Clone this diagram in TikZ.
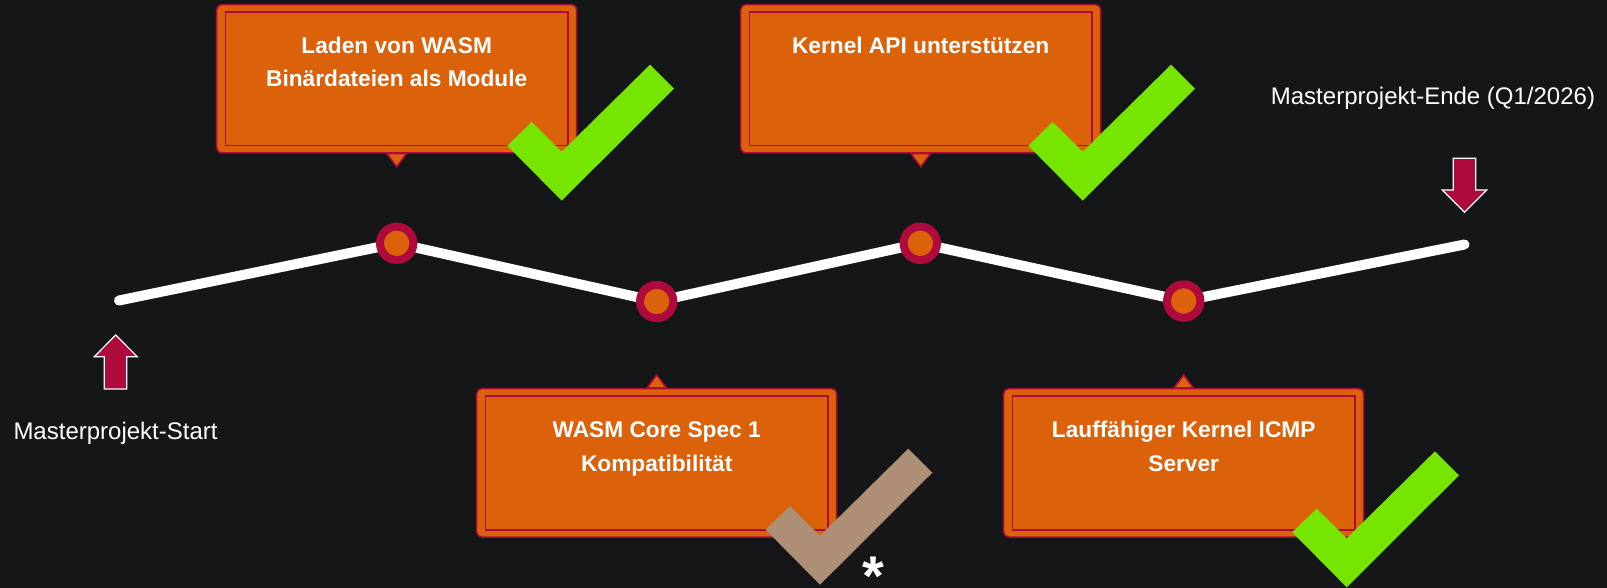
\documentclass[tikz,border=0pt]{standalone}
\usepackage{fontspec}
\setmainfont{Liberation Sans}
\definecolor{pagebg}{RGB}{21,22,24}
\definecolor{boxorange}{RGB}{219,97,10}
\definecolor{crimson}{RGB}{174,10,60}
\definecolor{tickgreen}{RGB}{118,230,0}
\definecolor{ticktan}{RGB}{172,143,117}
\pgfdeclarelayer{canvas}
\pgfdeclarelayer{track}
\pgfsetlayers{canvas,track,main}
\tikzset{
  milestone box/.style={rectangle, rounded corners=5pt, fill=boxorange, draw=crimson,
    line width=1.5pt, minimum width=360pt, minimum height=148.3pt, inner sep=0pt},
  inner frame/.style={draw=crimson, line width=1.5pt},
  pointer/.style={fill=boxorange, draw=crimson, line width=1.5pt, line join=miter},
  box text/.style={text=white, inner sep=0pt, anchor=base,
    font=\fontsize{22.7}{33.3}\selectfont\bfseries},
  milestone dot/.style={circle, fill=boxorange, draw=crimson, line width=8pt,
    minimum size=33.4pt, inner sep=0pt},
  timeline/.style={draw=white, line width=10pt, line cap=round, line join=round},
  caption/.style={text=white, inner sep=0pt, anchor=base west,
    font=\fontsize{24}{28}\selectfont},
  marker arrow/.style={fill=crimson, draw=white, line width=1.2pt, line join=miter},
  tick/.pic={\fill[#1] (0,0) -- (-54.4,-55) -- (-30,-78.7) -- (0,-49)
      -- (88.3,-136) -- (112.3,-112) -- cycle;},
}
\newcommand{\msframe}[1]{%
  \draw[inner frame] ([shift={(9.3,8)}]#1.north west) rectangle ([shift={(-9.3,-8)}]#1.south east);}
\begin{document}
\begin{tikzpicture}[x=1pt,y=-1pt]
\useasboundingbox (0,0) rectangle (1607,588);
\begin{pgfonlayer}{canvas}
  \fill[pagebg] (0,0) rectangle (1607,588);
\end{pgfonlayer}

% timeline points
\coordinate (tstart) at (119,300.5);
\coordinate (tend) at (1464.5,244.5);
\node[milestone dot] (m1) at (396.7,243.3) {};
\node[milestone dot] (m2) at (656.7,301.5) {};
\node[milestone dot] (m3) at (920.3,243.3) {};
\node[milestone dot] (m4) at (1183.7,301) {};
\begin{pgfonlayer}{track}
  \draw[timeline] (tstart) -- (m1.center) -- (m2.center) -- (m3.center) -- (m4.center) -- (tend);
\end{pgfonlayer}

% milestone boxes above the line
\node[milestone box] (b1) at (396.7,78.85) {};
\msframe{b1}
\filldraw[pointer] ([xshift=-9.7pt]b1.south) -- ([yshift=-13pt]b1.south) -- ([xshift=9.7pt]b1.south) -- cycle;
\node[box text] (t1) at (396.7,53.7) {\begin{tabular}[t]{@{}c@{}}Laden von WASM\\Binärdateien als Module\end{tabular}};

\node[milestone box] (b3) at (920.7,78.85) {};
\msframe{b3}
\filldraw[pointer] ([xshift=-9.7pt]b3.south) -- ([yshift=-13pt]b3.south) -- ([xshift=9.7pt]b3.south) -- cycle;
\node[box text] (t3) at (920.7,53.7) {\begin{tabular}[t]{@{}c@{}}Kernel API unterstützen\end{tabular}};

% milestone boxes below the line
\node[milestone box] (b2) at (656.7,462.85) {};
\msframe{b2}
\filldraw[pointer] ([xshift=-9.7pt]b2.north) -- ([yshift=13pt]b2.north) -- ([xshift=9.7pt]b2.north) -- cycle;
\node[box text] (t2) at (656.7,437.7) {\begin{tabular}[t]{@{}c@{}}WASM Core Spec 1\\Kompatibilität\end{tabular}};

\node[milestone box] (b4) at (1183.7,462.85) {};
\msframe{b4}
\filldraw[pointer] ([xshift=-9.7pt]b4.north) -- ([yshift=13pt]b4.north) -- ([xshift=9.7pt]b4.north) -- cycle;
\node[box text] (t4) at (1183.7,437.7) {\begin{tabular}[t]{@{}c@{}}Lauffähiger Kernel ICMP\\Server\end{tabular}};

% status ticks
\pic at (561.7,200.7) {tick=tickgreen};
\pic at (1082.7,200.7) {tick=tickgreen};
\pic at (820,584.7) {tick=ticktan};
\pic at (1346.7,587.3) {tick=tickgreen};
\node[text=white, inner sep=0pt, anchor=north, font=\fontsize{56}{60}\selectfont\bfseries] (star) at (873.3,556.7)
  {\raisebox{-20pt}[\dimexpr\height-20pt\relax][0pt]{*}};

% project start and end markers
\filldraw[marker arrow] (104.3,389) -- (104.3,356.7) -- (94.3,356.7) -- (115.7,335)
  -- (137.3,356.7) -- (126.7,356.7) -- (126.7,389) -- cycle;
\node[caption] (startlbl) at (13.3,439.3) {Masterprojekt-Start};

\filldraw[marker arrow] (1453.3,158.3) -- (1475.7,158.3) -- (1475.7,190) -- (1486.7,190)
  -- (1464.5,212.3) -- (1442.3,190) -- (1453.3,190) -- cycle;
\node[caption] (endlbl) at (1270.7,105) {Masterprojekt-Ende (Q1/2026)};
\end{tikzpicture}
\end{document}
